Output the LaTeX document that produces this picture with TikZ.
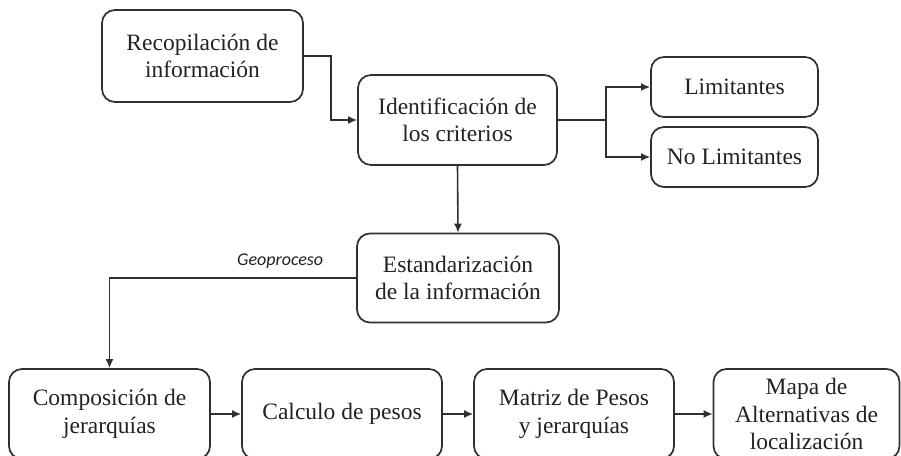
\documentclass[tikz,border=0pt]{standalone}
\usepackage{fontspec}
\setmainfont{Liberation Serif}
\newfontfamily\labelfont{Carlito}
\usetikzlibrary{arrows.meta}
\definecolor{ink}{HTML}{303030}
\definecolor{txt}{HTML}{222222}
\begin{document}
\begin{tikzpicture}[x=1pt,y=-1pt,
  box/.style={draw=ink, line width=1.7pt, rounded corners=13pt, align=center,
    inner sep=0pt, text=txt, font=\fontsize{23.5}{27.5}\selectfont},
  conn/.style={draw=ink, line width=1.6pt},
  arr/.style={conn, -{Latex[length=9pt,width=8pt]}}]
\useasboundingbox (0,0) rectangle (901,455);
\node[box, minimum width=201pt, minimum height=92pt] (rec) at (202.5,56) {Recopilación de\\información};
\node[box, minimum width=199pt, minimum height=90pt] (ide) at (457.5,120) {Identificación de\\los criterios};
\node[box, minimum width=167pt, minimum height=60pt] (lim) at (734.5,87) {Limitantes};
\node[box, minimum width=167pt, minimum height=60pt] (nol) at (734.5,157) {No Limitantes};
\node[box, minimum width=202pt, minimum height=89pt] (est) at (458,278) {Estandarización\\de la información};
\node[box, minimum width=201pt, minimum height=90pt] (com) at (109.5,414) {Composición de\\jerarquías};
\node[box, minimum width=200pt, minimum height=90pt] (cal) at (342,414) {Calculo de pesos};
\node[box, minimum width=200pt, minimum height=90pt] (mat) at (574,414) {Matriz de Pesos\\y jerarquías};
\node[box, minimum width=186pt, minimum height=90pt] (map) at (806.5,414) {Mapa de\\Alternativas de\\localización};
\draw[arr] (rec.east) -- ++(27,0) |- (ide.west);
\draw[conn] (ide.east) -- ++(48,0) coordinate (br);
\draw[arr] (br) |- (lim.west);
\draw[arr] (br) |- (nol.west);
\draw[arr] (ide.south) -- (est.north);
\draw[arr] (est.west) -| node[pos=0.154, above=5pt, font=\labelfont\itshape\fontsize{18}{20}\selectfont, text=txt] {Geoproceso} (com.north);
\draw[arr] (com.east) -- (cal.west);
\draw[arr] (cal.east) -- (mat.west);
\draw[arr] (mat.east) -- (map.west);
\end{tikzpicture}
\end{document}
